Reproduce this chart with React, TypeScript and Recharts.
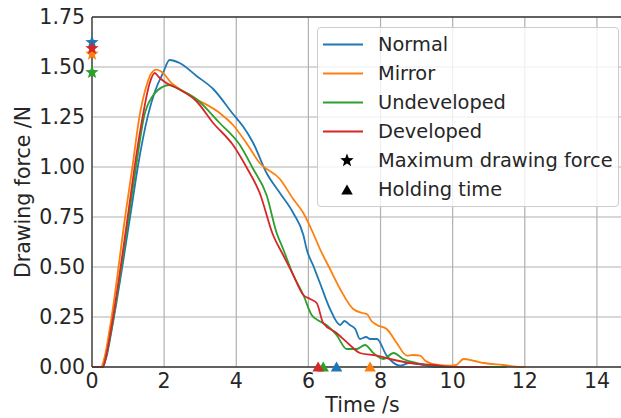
import { LineChart, Line, Scatter, XAxis, YAxis, CartesianGrid, ReferenceLine, Legend, Label, Cell } from 'recharts';

// series colours (matplotlib tab10)
const COLORS: Record<string, string> = {
  Normal: '#1f77b4',
  Mirror: '#ff7f0e',
  Undeveloped: '#2ca02c',
  Developed: '#d62728',
};

const SERIES = ['Normal', 'Mirror', 'Undeveloped', 'Developed'];

const X_TICKS = [0, 2, 4, 6, 8, 10, 12, 14];
const Y_TICKS = [0, 0.25, 0.5, 0.75, 1.0, 1.25, 1.5, 1.75];

// [time s, force N]
const normal: [number, number][] = [
  [0, 0], [0.28, 0], [0.4, 0.05], [0.55, 0.19], [1.09, 0.79], [1.27, 1.0], [1.55, 1.257], [1.75, 1.38],
  [1.97, 1.47], [2.15, 1.535], [2.43, 1.52], [2.9, 1.455], [3.36, 1.39], [3.91, 1.265], [4.2, 1.2],
  [4.47, 1.12], [4.84, 0.97], [5.21, 0.87], [5.58, 0.77], [5.86, 0.66], [5.95, 0.59], [6.15, 0.5],
  [6.32, 0.42], [6.6, 0.29], [6.88, 0.21], [7.0, 0.23], [7.15, 0.21], [7.3, 0.19], [7.43, 0.14],
  [7.6, 0.15], [7.71, 0.14], [7.9, 0.14], [8.17, 0.057], [8.54, 0.007], [8.8, 0.02], [9.2, 0.01],
  [9.5, 0], [10, 0],
];

const mirror: [number, number][] = [
  [0, 0], [0.25, 0], [0.35, 0.05], [0.5, 0.2], [0.95, 0.79], [1.12, 1.0], [1.32, 1.257], [1.5, 1.4],
  [1.65, 1.47], [1.78, 1.487], [1.97, 1.47], [2.2, 1.42], [2.43, 1.39], [2.89, 1.34], [3.54, 1.27],
  [3.91, 1.21], [4.28, 1.12], [4.65, 1.02], [5.21, 0.94], [5.58, 0.84], [5.86, 0.77], [6.13, 0.67],
  [6.32, 0.59], [6.6, 0.49], [6.88, 0.39], [7.24, 0.29], [7.5, 0.27], [7.62, 0.265], [7.75, 0.23],
  [7.9, 0.21], [8.17, 0.19], [8.45, 0.12], [8.73, 0.057], [8.9, 0.06], [9.1, 0.057], [9.25, 0.03],
  [9.6, 0.01], [9.93, 0.007], [10.1, 0.01], [10.3, 0.04], [10.6, 0.03], [10.86, 0.02], [11.4, 0.01],
  [11.9, 0], [12.0, 0],
];

const undeveloped: [number, number][] = [
  [0, 0], [0.3, 0], [0.4, 0.06], [0.54, 0.19], [1.05, 0.79], [1.22, 1.0], [1.45, 1.257], [1.7, 1.36],
  [1.95, 1.4], [2.15, 1.41], [2.4, 1.39], [2.89, 1.34], [3.54, 1.22], [4.1, 1.11], [4.47, 0.99],
  [4.84, 0.86], [5.12, 0.67], [5.3, 0.59], [5.58, 0.46], [5.86, 0.36], [6.09, 0.26], [6.3, 0.23],
  [6.5, 0.21], [6.78, 0.16], [7.06, 0.09], [7.34, 0.09], [7.57, 0.11], [7.8, 0.07], [8.08, 0.04],
  [8.36, 0.07], [8.63, 0.04], [9.0, 0.02], [9.5, 0.005], [10, 0], [11.5, 0],
];

const developed: [number, number][] = [
  [0, 0], [0.3, 0], [0.4, 0.06], [0.53, 0.19], [1.02, 0.79], [1.18, 1.0], [1.41, 1.257], [1.6, 1.42],
  [1.74, 1.47], [1.85, 1.45], [2.06, 1.42], [2.4, 1.39], [2.89, 1.33], [3.36, 1.22], [3.91, 1.11],
  [4.28, 1.0], [4.65, 0.87], [5.02, 0.66], [5.3, 0.56], [5.58, 0.46], [5.86, 0.36], [6.05, 0.34],
  [6.23, 0.32], [6.41, 0.22], [6.78, 0.17], [7.15, 0.11], [7.43, 0.07], [7.9, 0.057], [8.26, 0.04],
  [8.82, 0.02], [9.47, 0.01], [10, 0], [11, 0],
];

// maximum drawing force (plotted at t = 0) and holding time (plotted at F = 0)
const MAX_FORCE = [1.623, 1.565, 1.473, 1.593];
const HOLD_TIME = [6.78, 7.71, 6.41, 6.27];

const CURVES = [normal, mirror, undeveloped, developed];

const toPts = (arr: [number, number][]) => arr.map(([x, y]) => ({ x, y }));

const FONT = '"DejaVu Sans", sans-serif';
const TEXT = '#262626';

const starPath = (cx: number, cy: number, ro: number, ri: number) => {
  let d = '';
  for (let i = 0; i < 10; i++) {
    const r = i % 2 === 0 ? ro : ri;
    const a = -Math.PI / 2 + (i * Math.PI) / 5;
    d += (i === 0 ? 'M' : 'L') + (cx + r * Math.cos(a)).toFixed(2) + ',' + (cy + r * Math.sin(a)).toFixed(2);
  }
  return d + 'Z';
};

const triPath = (cx: number, cy: number, s: number) =>
  `M${cx},${cy - s}L${cx + s * 1.05},${cy + s * 0.8}L${cx - s * 1.05},${cy + s * 0.8}Z`;

const Star = (props: any) => <path d={starPath(props.cx, props.cy, 7, 3)} fill={props.fill} />;
const Tri = (props: any) => <path d={triPath(props.cx, props.cy, 5.5)} fill={props.fill} />;

const renderLegend = () => (
  <div
    style={{
      width: 302,
      height: 180,
      boxSizing: 'border-box',
      border: '1px solid #cccccc',
      borderRadius: 4,
      background: 'rgba(255,255,255,0.8)',
      paddingTop: 2,
      fontFamily: FONT,
      fontSize: 19.4,
      color: TEXT,
    }}
  >
    {[...SERIES, 'Maximum drawing force', 'Holding time'].map((name, i) => (
      <div key={name} style={{ height: 29, display: 'flex', alignItems: 'center' }}>
        <svg width={56} height={29} style={{ marginLeft: 4, flex: 'none' }}>
          {i < 4 && <line x1={1} x2={41} y1={14.5} y2={14.5} stroke={COLORS[name]} strokeWidth={2} />}
          {i === 4 && <path d={starPath(25, 14.5, 7, 3)} fill="#000" />}
          {i === 5 && <path d={triPath(25, 15, 5.5)} fill="#000" />}
        </svg>
        <span>{name}</span>
      </div>
    ))}
  </div>
);

export default function App() {
  const stars = SERIES.map((s, i) => ({ x: 0, y: MAX_FORCE[i], name: s }));
  const tris = SERIES.map((s, i) => ({ x: HOLD_TIME[i], y: 0, name: s }));

  return (
    <div style={{ position: 'absolute', left: 0, top: 0, width: 621, height: 418, overflow: 'hidden', background: '#fff' }}>
      <LineChart width={641} height={418} margin={{ top: 17, right: 8, bottom: 0, left: 0 }}>
        <CartesianGrid stroke="#b0b0b0" strokeWidth={1.2} />
        <XAxis
          dataKey="x"
          type="number"
          domain={[0, 15]}
          ticks={X_TICKS}
          height={51}
          tickLine={false}
          tickSize={0}
          tickMargin={6}
          axisLine={{ stroke: '#3a3a3a', strokeWidth: 1.3 }}
          tick={{ fill: TEXT, fontSize: 20.5, fontFamily: FONT }}
        >
          <Label
            content={({ viewBox }: any) => (
              <text x={viewBox.x + viewBox.width / 2} y={412} textAnchor="middle" fill={TEXT} fontSize={20.5} fontFamily={FONT}>
                Time /s
              </text>
            )}
          />
        </XAxis>
        <YAxis
          dataKey="y"
          type="number"
          domain={[0, 1.75]}
          ticks={Y_TICKS}
          width={92}
          tickLine={false}
          tickSize={0}
          tickMargin={7}
          tickFormatter={(v: number) => v.toFixed(2)}
          axisLine={{ stroke: '#3a3a3a', strokeWidth: 1.3 }}
          tick={{ fill: TEXT, fontSize: 20.5, fontFamily: FONT }}
        >
          <Label
            content={({ viewBox }: any) => {
              const cy = viewBox.y + viewBox.height / 2;
              return (
                <text x={30} y={cy} transform={`rotate(-90, 30, ${cy})`} textAnchor="middle" fill={TEXT} fontSize={20.5} fontFamily={FONT}>
                  Drawing force /N
                </text>
              );
            }}
          />
        </YAxis>
        <ReferenceLine y={1.75} stroke="#3a3a3a" strokeWidth={1.3} />
        {SERIES.map((s, i) => (
          <Line
            key={s}
            data={toPts(CURVES[i])}
            dataKey="y"
            stroke={COLORS[s]}
            strokeWidth={1.8}
            dot={false}
            type="monotone"
            isAnimationActive={false}
          />
        ))}
        <Scatter data={stars} dataKey="y" shape={<Star />} isAnimationActive={false}>
          {stars.map((p) => (
            <Cell key={p.name} fill={COLORS[p.name]} />
          ))}
        </Scatter>
        <Scatter data={tris} dataKey="y" shape={<Tri />} isAnimationActive={false}>
          {tris.map((p) => (
            <Cell key={p.name} fill={COLORS[p.name]} />
          ))}
        </Scatter>
        <Legend
          layout="vertical"
          align="center"
          verticalAlign="middle"
          content={renderLegend}
          wrapperStyle={{ position: 'absolute', left: 317, top: 27, width: 302, height: 180 }}
        />
      </LineChart>
    </div>
  );
}
